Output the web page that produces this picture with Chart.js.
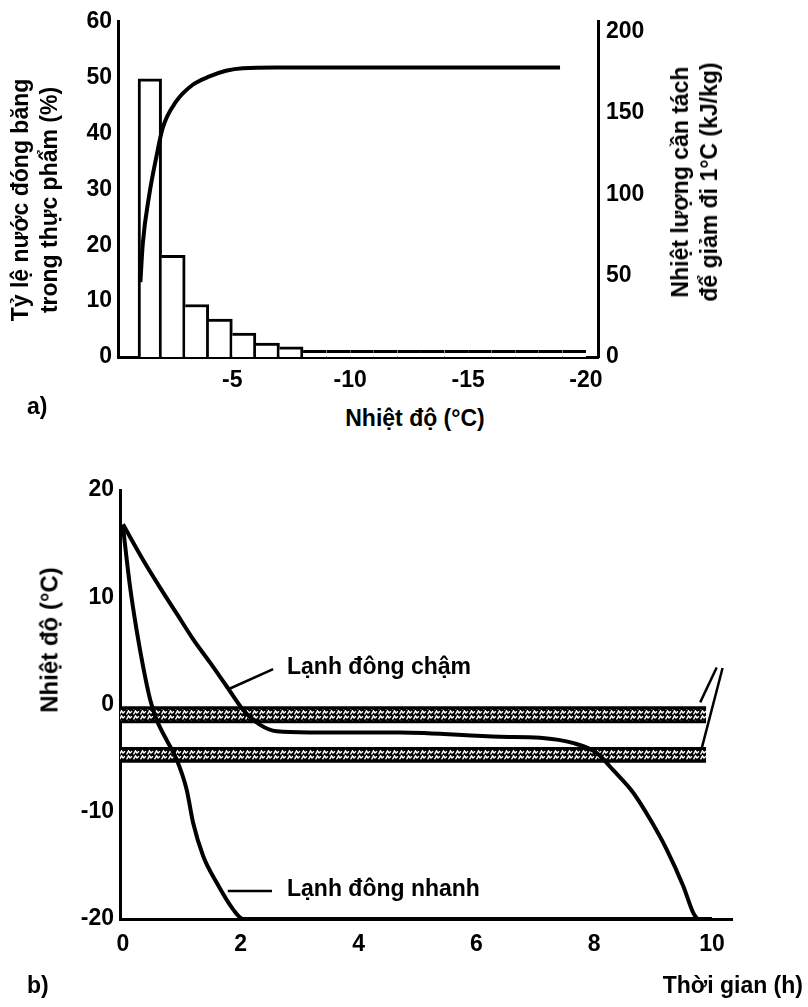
<!DOCTYPE html>
<html>
<head>
<meta charset="utf-8">
<script src="https://cdn.jsdelivr.net/npm/chart.js@4"></script>
<style>
body { margin: 0; background: #fff; }
#wrap { position: relative; width: 808px; height: 1007px; overflow: hidden;
        font-family: "Liberation Sans", Arial, sans-serif; font-weight: bold; color: #000; }
canvas { position: absolute; left: 0; }
.lbl { position: absolute; font-size: 23px; line-height: 29px; white-space: nowrap; }
.rot { transform: translate(-50%, -50%) rotate(-90deg); text-align: center; }
.mid { transform: translateY(-50%); }
</style>
</head>
<body>
<div id="wrap">
  <canvas id="chartA" width="808" height="400" style="top:0"></canvas>
  <canvas id="chartB" width="808" height="567" style="top:440px"></canvas>

  <div class="lbl rot" style="left:35px; top:200px">Tỷ lệ nước đóng băng<br>trong thực phẩm (%)</div>
  <div class="lbl rot" style="left:695px; top:182px">Nhiệt lượng cần tách<br>để giảm đi 1°C (kJ/kg)</div>
  <div class="lbl mid" style="left:27px; top:406px">a)</div>
  <div class="lbl" style="left:415px; top:418px; transform:translate(-50%,-50%)">Nhiệt độ (°C)</div>

  <div class="lbl rot" style="left:49px; top:640px; font-size:24px">Nhiệt độ (°C)</div>
  <div class="lbl mid" style="left:287px; top:666px">Lạnh đông chậm</div>
  <div class="lbl mid" style="left:287px; top:888px">Lạnh đông nhanh</div>
  <div class="lbl mid" style="left:27px; top:985px">b)</div>
  <div class="lbl mid" style="right:5px; top:985px">Thời gian (h)</div>
</div>

<script>
// a) nuoc dong bang theo nhiet do
const tempBins = [-1.5, -2.5, -3.5, -4.5, -5.5, -6.5, -7.5,
                  -8.5, -9.5, -10.5, -11.5, -12.5, -13.5, -14.5, -15.5, -16.5, -17.5, -18.5, -19.5];
const frozenPct = [49.8, 18.2, 9.4, 6.8, 4.3, 2.5, 1.8,
                   1.2, 1.2, 1.2, 1.2, 1.2, 1.2, 1.2, 1.2, 1.2, 1.2, 1.2, 1.2];
const heatTemp = [-1.1, -1.2, -1.48, -1.77, -2.05, -2.61, -3.32, -4.03, -4.73, -5.44, -6.85, -18.9];
const heatKJ = [46, 69.5, 100, 122.5, 141, 157, 167.4, 172.5, 176, 177.6, 178, 178];
const xTicksA = [-5, -10, -15, -20];
const yTicksA = [0, 10, 20, 30, 40, 50, 60];
const y2TicksA = [0, 50, 100, 150, 200];

// b) duong cong lanh dong
const slowH = [0, 0.34, 0.63, 0.91, 1.19, 1.48, 1.76, 2.04, 2.33, 2.61, 3.17, 4.7, 6.4, 7.08,
               7.65, 8.04, 8.32, 8.66, 8.95, 9.23, 9.51, 9.68, 9.75];
const slowC = [16.8, 13.5, 10.9, 8.5, 6.1, 3.9, 1.7, -0.5, -1.9, -2.5, -2.6, -2.6, -3.0, -3.1,
               -3.6, -4.5, -6.1, -8.2, -10.7, -13.5, -16.9, -19.4, -20];
const fastH = [0, 0.12, 0.23, 0.34, 0.46, 0.57, 0.74, 0.91, 1.08, 1.19, 1.36, 1.59, 1.87, 2.04, 10];
const fastC = [16.6, 11.0, 7.0, 3.6, 0.5, -1.4, -3.3, -5.1, -7.9, -11.0, -14.1, -16.6, -19.1, -20, -20];
const bandH = [-0.05, 9.9];
const band1 = [-0.3, -1.6];
const band2 = [-4.1, -5.3];
const xTicksB = [0, 2, 4, 6, 8, 10];
const yTicksB = [-20, -10, 0, 10, 20];

const tickFont = { family: '"Liberation Sans", Arial, sans-serif', size: 23, weight: 'bold' };
const axisBorder = { display: true, color: '#000', width: 3 };

function setTicks(list) {
  return scale => { scale.ticks = list.map(v => ({ value: v })); };
}

function axis(extra) {
  return Object.assign({
    type: 'linear',
    offset: false,
    grid: { display: false, drawTicks: false },
    border: axisBorder
  }, extra);
}

function hatchPattern() {
  const c = document.createElement('canvas');
  c.width = 7; c.height = 5;
  const g = c.getContext('2d');
  g.fillStyle = '#000';
  g.fillRect(0, 0, 7, 5);
  g.strokeStyle = '#fff';
  g.lineWidth = 1.4;
  g.beginPath();
  g.moveTo(0.5, 4.5); g.lineTo(2.5, 0.8); g.lineTo(4, 3); g.lineTo(6, 1.2);
  g.stroke();
  return g.createPattern(c, 'repeat');
}

// ---- chart a)
new Chart(document.getElementById('chartA'), {
  type: 'bar',
  data: {
    datasets: [{
      type: 'bar',
      yAxisID: 'y',
      data: tempBins.map((t, i) => ({ x: t, y: frozenPct[i] })),
      backgroundColor: '#fff',
      borderColor: '#000',
      borderWidth: ctx => ctx.dataIndex < 7
        ? { top: 3, right: 3, left: ctx.dataIndex === 0 ? 3 : 0, bottom: 0 }
        : { top: 3, left: 0, right: 0, bottom: 0 },
      barPercentage: 1,
      categoryPercentage: 1,
      order: 2
    }, {
      type: 'line',
      yAxisID: 'y2',
      data: heatTemp.map((t, i) => ({ x: t, y: heatKJ[i] })),
      borderColor: '#000',
      borderWidth: 4,
      pointRadius: 0,
      cubicInterpolationMode: 'monotone',
      fill: false,
      order: 1
    }]
  },
  options: {
    responsive: false,
    animation: false,
    events: [],
    layout: { padding: { top: 20 } },
    plugins: { legend: { display: false }, tooltip: { enabled: false } },
    scales: {
      x: axis({
        reverse: true, min: -20.51, max: -0.15,
        ticks: { color: '#000', font: tickFont, padding: 10, maxRotation: 0, autoSkip: false },
        afterBuildTicks: setTicks(xTicksA),
        afterFit: s => { s.height = 43; }
      }),
      y: axis({
        position: 'left', min: 0, max: 60,
        ticks: { color: '#000', font: tickFont, padding: 6 },
        afterBuildTicks: setTicks(yTicksA),
        afterFit: s => { s.width = 118; }
      }),
      y2: axis({
        position: 'right', min: 0, max: 206.1,
        ticks: { color: '#000', font: tickFont, padding: 8 },
        afterBuildTicks: setTicks(y2TicksA),
        afterFit: s => { s.width = 210; }
      })
    }
  }
});

// ---- chart b)
const leaders = {
  id: 'leaders',
  afterDatasetsDraw(chart) {
    const { ctx, scales: { x, y } } = chart;
    const seg = (x1, y1, x2, y2) => {
      ctx.beginPath();
      ctx.moveTo(x.getPixelForValue(x1), y.getPixelForValue(y1));
      ctx.lineTo(x.getPixelForValue(x2), y.getPixelForValue(y2));
      ctx.stroke();
    };
    ctx.save();
    ctx.strokeStyle = '#000';
    ctx.lineWidth = 2.5;
    seg(1.78, 1.4, 2.55, 3.3);
    seg(1.78, -17.4, 2.53, -17.4);
    seg(9.8, 0.2, 10.08, 3.45);
    seg(9.83, -4.0, 10.18, 3.4);
    ctx.restore();
  }
};

const hatch = hatchPattern();
const curve = (hs, cs) => hs.map((h, i) => ({ x: h, y: cs[i] }));
const bandEdge = v => bandH.map(h => ({ x: h, y: v }));
const edgeStyle = { borderColor: '#000', borderWidth: 3, pointRadius: 0, order: 2 };

new Chart(document.getElementById('chartB'), {
  type: 'line',
  data: {
    datasets: [
      Object.assign({ data: bandEdge(band1[0]), fill: false }, edgeStyle),
      Object.assign({ data: bandEdge(band1[1]), fill: '-1', backgroundColor: hatch }, edgeStyle),
      Object.assign({ data: bandEdge(band2[0]), fill: false }, edgeStyle),
      Object.assign({ data: bandEdge(band2[1]), fill: '-1', backgroundColor: hatch }, edgeStyle),
      {
        label: 'Lạnh đông chậm',
        data: curve(slowH, slowC),
        borderColor: '#000', borderWidth: 4, pointRadius: 0,
        cubicInterpolationMode: 'monotone', fill: false, order: 1
      },
      {
        label: 'Lạnh đông nhanh',
        data: curve(fastH, fastC),
        borderColor: '#000', borderWidth: 4, pointRadius: 0,
        cubicInterpolationMode: 'monotone', fill: false, order: 1
      }
    ]
  },
  options: {
    responsive: false,
    animation: false,
    events: [],
    layout: { padding: { top: 50, right: 76 } },
    plugins: { legend: { display: false }, tooltip: { enabled: false } },
    scales: {
      x: axis({
        min: -0.05, max: 10.34,
        ticks: { color: '#000', font: tickFont, padding: 12, maxRotation: 0, autoSkip: false },
        afterBuildTicks: setTicks(xTicksB),
        afterFit: s => { s.height = 88; }
      }),
      y: axis({
        min: -20, max: 20,
        ticks: { color: '#000', font: tickFont, padding: 6 },
        afterBuildTicks: setTicks(yTicksB),
        afterFit: s => { s.width = 120; }
      })
    }
  },
  plugins: [leaders]
});
</script>
</body>
</html>
